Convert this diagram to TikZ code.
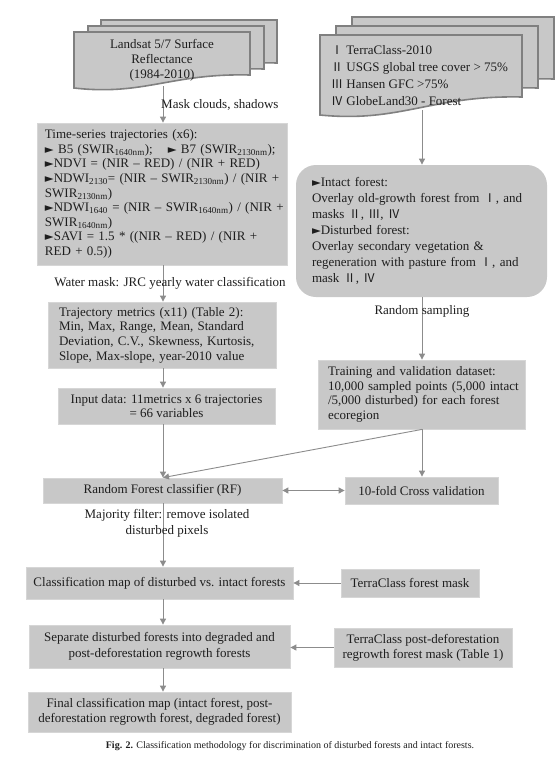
\documentclass[tikz,border=0pt]{standalone}
\usepackage{fontspec}
\setmainfont{Liberation Serif}
\newfontfamily\cjkf{Noto Sans CJK SC}
\newfontfamily\dvs{DejaVu Sans}
\usetikzlibrary{arrows.meta}
\definecolor{boxfill}{RGB}{200,200,200}
\definecolor{boxedge}{RGB}{214,214,214}
\definecolor{docedge}{RGB}{128,128,128}
\definecolor{arrc}{RGB}{140,140,140}
\definecolor{txt}{RGB}{30,30,30}
\newcommand\mytri{{\dvs\fontsize{11.5}{11}\selectfont ►}}
\newcommand\rn[1]{{\cjkf\fontsize{12}{12}\selectfont #1}}
\newcommand\mydoc[5]{\draw[docsty] (#1,#2) -- (#1+#3,#2) -- (#1+#3,#5) .. controls (#1+0.55*#3,#5-2) and (#1+0.4*#3,#4+8) .. (#1,#4) -- cycle;}
\begin{document}
\begin{tikzpicture}[x=1pt,y=-1pt,
  every node/.style={text=txt},
  box/.style={draw=boxedge, fill=boxfill, line width=0.8pt, inner sep=0pt,
    font=\fontsize{13}{14.6}\selectfont},
  lbl/.style={inner sep=0pt, font=\fontsize{13}{16}\selectfont},
  docsty/.style={draw=docedge, fill=boxfill, line width=1.6pt},
  arr/.style={draw=arrc, line width=0.9pt, -{Triangle[width=6pt,length=6pt]}},
  arrb/.style={draw=arrc, line width=0.9pt, {Triangle[width=6pt,length=6pt]}-{Triangle[width=6pt,length=6pt]}}]
\useasboundingbox[fill=white] (0,0) rectangle (557,761);

% document stacks
\mydoc{101}{20}{176}{76}{63}
\mydoc{88}{26}{176}{82}{69}
\mydoc{74}{32}{176}{88}{75}
\mydoc{352}{17}{202}{97}{79}
\mydoc{336}{26}{202}{106}{88}
\mydoc{320}{35}{202}{115}{97}

\node[lbl, align=center, font=\fontsize{13}{15}\selectfont] (landsat) at (162,60)
  {Landsat 5/7 Surface\\Reflectance\\(1984-2010)};
\node[lbl, align=left, anchor=west, font=\fontsize{13}{16.7}\selectfont] (tcdoc) at (331,75.5)
  {\rn{Ⅰ} TerraClass-2010\\ \rn{Ⅱ} USGS global tree cover > 75\%\\ \rn{Ⅲ} Hansen GFC >75\%\\ \rn{Ⅳ} GlobeLand30 - Forest};

\coordinate (colL) at (163,0);
\coordinate (colR) at (422,0);
\coordinate (lsb) at (163,86);
\coordinate (tcb) at (422,110);

% left column boxes
\node[box, minimum width=250pt, minimum height=142pt, text width=234pt, align=left] (ts) at (162,194)
  {Time-series trajectories (x6):\\
   \mytri{} B5 (SWIR\textsubscript{1640nm});\hspace{15pt}\mytri{} B7 (SWIR\textsubscript{2130nm});\\
   \mytri NDVI = (NIR – RED) / (NIR + RED)\\
   \mbox{\mytri NDWI\textsubscript{2130}= (NIR – SWIR\textsubscript{2130nm}) / (NIR +}\\
   SWIR\textsubscript{2130nm})\\
   \mbox{\mytri NDWI\textsubscript{1640} = (NIR – SWIR\textsubscript{1640nm}) / (NIR +}\\
   SWIR\textsubscript{1640nm})\\
   \mytri SAVI = 1.5 * ((NIR – RED) / (NIR +\\
   RED + 0.5))};
\node[box, minimum width=228pt, minimum height=66pt, text width=206pt, align=left] (traj) at (162,335)
  {Trajectory metrics (x11) (Table 2):\\
   Min, Max, Range, Mean, Standard\\
   \mbox{Deviation, C.V., Skewness, Kurtosis,}\\
   \mbox{Slope, Max-slope, year-2010 value}};
\node[box, minimum width=217pt, minimum height=36pt, align=center, font=\fontsize{13}{13.5}\selectfont] (inp) at (166.5,406)
  {Input data: 11metrics x 6 trajectories\\= 66 variables};
\node[box, minimum width=239pt, minimum height=25pt] (rf) at (162.5,490.5)
  {Random Forest classifier (RF)};
\node[box, minimum width=267pt, minimum height=32pt] (cmap) at (159.5,583)
  {Classification map of disturbed vs. intact forests};
\node[box, minimum width=261pt, minimum height=43pt, align=center, font=\fontsize{13}{16}\selectfont] (sep) at (159.5,646.5)
  {Separate disturbed forests into degraded and\\post-deforestation regrowth forests};
\node[box, minimum width=263pt, minimum height=40pt, align=center, font=\fontsize{13}{15}\selectfont] (final) at (159.5,712)
  {Final classification map (intact forest, post-\\deforestation regrowth forest, degraded forest)};

% right column boxes
\node[box, draw=none, rounded corners=20pt, minimum width=251pt, minimum height=132pt, text width=219pt, align=left, font=\fontsize{13}{16}\selectfont] (rnd) at (421.5,231)
  {\mytri Intact forest:\\
   \mbox{Overlay old-growth forest from \rn{Ⅰ}, and}\\
   masks \rn{Ⅱ}, \rn{Ⅲ}, \rn{Ⅳ}\\
   \mytri Disturbed forest:\\
   Overlay secondary vegetation \&\\
   \mbox{regeneration with pasture from \rn{Ⅰ}, and}\\
   mask \rn{Ⅱ}, \rn{Ⅳ}};
\node[box, minimum width=207pt, minimum height=69pt, text width=187pt, align=left, font=\fontsize{13}{14.7}\selectfont] (train) at (421.5,394.5)
  {Training and validation dataset:\\
   \mbox{10,000 sampled points (5,000 intact}\\
   \mbox{/5,000 disturbed) for each forest}\\
   ecoregion};
\node[box, minimum width=153pt, minimum height=27pt] (cv) at (421.5,490.5)
  {10-fold Cross validation};
\node[box, minimum width=138pt, minimum height=28pt] (tcmask) at (410,583)
  {TerraClass forest mask};
\node[box, minimum width=178pt, minimum height=39pt, align=center, font=\fontsize{13}{15}\selectfont] (tcpost) at (423,647.5)
  {TerraClass post-deforestation\\regrowth forest mask (Table 1)};

% connectors
\draw[arr] (lsb) -- (ts.north -| colL);
\draw[arr] (ts.south -| colL) -- (traj.north -| colL);
\draw[arr] (traj.south -| colL) -- (inp.north -| colL);
\draw[arr] (inp.south -| colL) -- (rf.north -| colL);
\draw[arr] (rf.south -| colL) -- (cmap.north -| colL);
\draw[arr] (cmap.south -| colL) -- (sep.north -| colL);
\draw[arr] (sep.south -| colL) -- (final.north -| colL);
\draw[arr] (tcb) -- (rnd.north -| colR);
\draw[arr] (rnd.south -| colR) -- (train.north -| colR);
\draw[arr] (train.south -| colR) -- (cv.north -| colR);
\draw[arr] (train.south -| colR) -- (rf.north -| colL);
\draw[arrb] (rf.east) -- (cv.west);
\draw[arr] (tcmask.west) -- (cmap.east);
\draw[arr] (tcpost.west) -- (tcpost.west -| sep.east);

% labels
\node[lbl, anchor=west] (mask) at (161,105) {Mask clouds, shadows};
\node[lbl] (water) at (170,283) {Water mask: JRC yearly water classification};
\node[lbl] (rs) at (422,311) {Random sampling};
\node[lbl, align=center] (maj) at (167,523) {Majority filter: remove isolated\\disturbed pixels};

\node[inner sep=0pt, font=\fontsize{10}{11}\selectfont] (cap) at (290,746)
  {\textbf{Fig. 2.} Classification methodology for discrimination of disturbed forests and intact forests.};
\end{tikzpicture}
\end{document}
